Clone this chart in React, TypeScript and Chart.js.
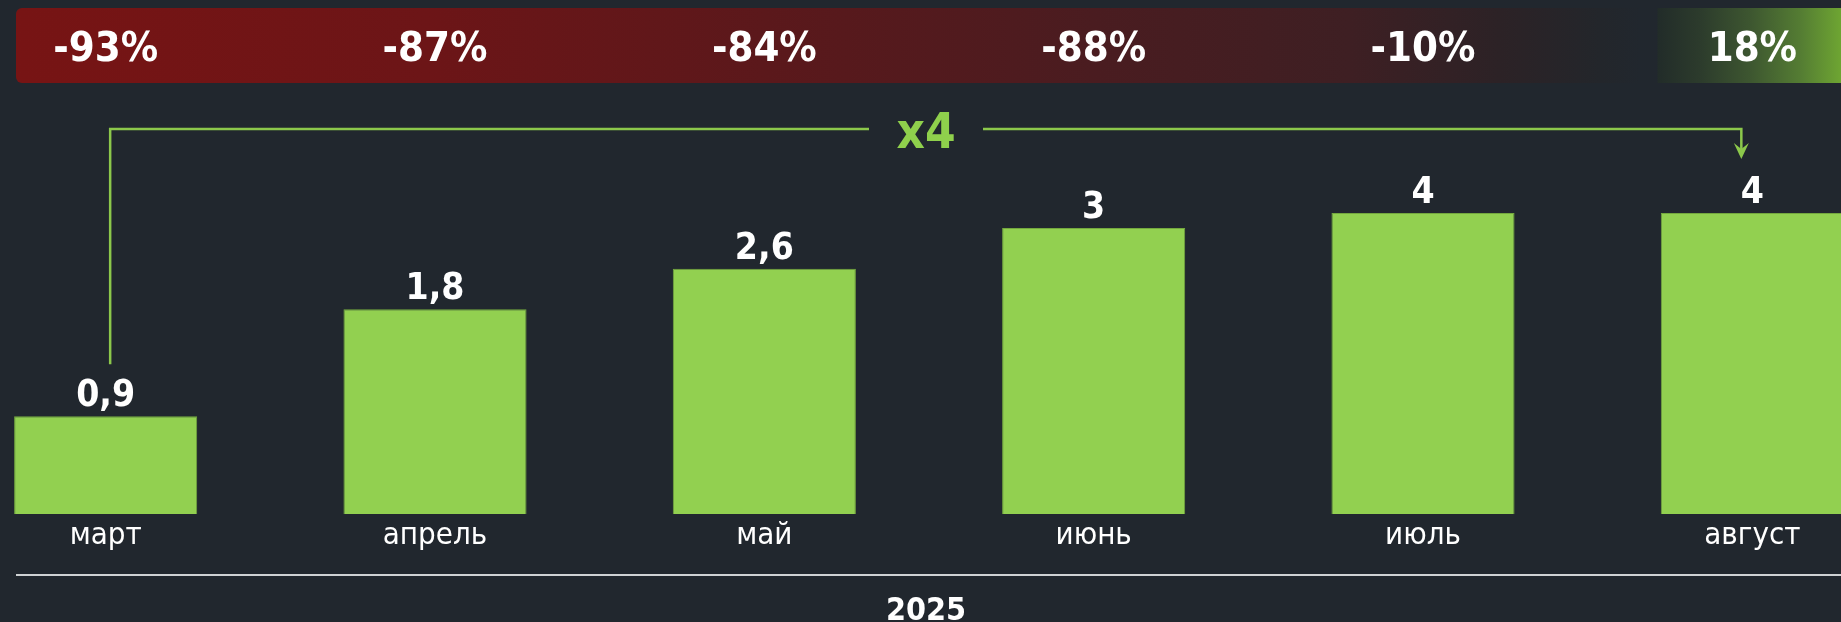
import React, { useEffect, useRef } from "react";
import { Chart, registerables } from "chart.js";

Chart.register(...registerables);

const categories = ["март", "апрель", "май", "июнь", "июль", "август"];
const barValues = [1.3, 2.72, 3.26, 3.8, 4.0, 4.0];
const valueLabels = ["0,9", "1,8", "2,6", "3", "4", "4"];
const changeLabels = ["-93%", "-87%", "-84%", "-88%", "-10%", "18%"];
const yearLabel = "2025";
const growthLabel = "x4";

const BG = "#21272e";
const BAR = "#92d050";
const LINE_GREEN = "#8cc84b";
const FONT = '"DejaVu Sans Condensed", "DejaVu Sans", sans-serif';

const W = 1841;
const H = 622;
const OX = 59; // canvas extends past the visible page on the left
const CW = 1976; // canvas width (wider than the page so outer bars are cut)

const decorPlugin = {
  id: "decor",
  beforeDraw(chart: any) {
    const ctx = chart.ctx;
    ctx.save();
    ctx.fillStyle = BG;
    ctx.fillRect(0, 0, CW, H);
    ctx.translate(OX, 0);

    // banner
    const bl = 16, bt = 8, bh = 75, br = W;
    const g = ctx.createLinearGradient(bl, 0, br, 0);
    const stops: [number, string][] = [
      [16, "#771414"],
      [435, "#6c1517"],
      [765, "#5b181b"],
      [1094, "#4a1c20"],
      [1350, "#3e1f23"],
      [1500, "#2c2226"],
      [1600, "#23262b"],
      [1640, BG],
      [1657, BG],
      [1658, "#222c29"],
      [1700, "#2c3b2c"],
      [1750, "#3d5630"],
      [1800, "#547c33"],
      [1841, "#6ea532"],
    ];
    stops.forEach(([x, c]) => g.addColorStop((x - bl) / (br - bl), c));
    ctx.fillStyle = g;
    ctx.beginPath();
    (ctx as any).roundRect(bl, bt, br - bl, bh, [6, 0, 0, 6]);
    ctx.fill();
    ctx.restore();
  },
  afterDraw(chart: any) {
    const ctx = chart.ctx;
    const meta = chart.getDatasetMeta(0);
    const xs = meta.data.map((b: any) => b.x - OX);
    ctx.save();
    ctx.translate(OX, 0);
    ctx.textAlign = "center";
    ctx.textBaseline = "alphabetic";
    ctx.fillStyle = "#ffffff";

    // change percentages in banner
    ctx.font = `bold 41.5px ${FONT}`;
    changeLabels.forEach((t, i) => ctx.fillText(t, xs[i], 61));

    // value labels
    ctx.font = `bold 37px ${FONT}`;
    meta.data.forEach((b: any, i: number) => {
      ctx.fillText(valueLabels[i], xs[i], b.y - 10);
    });

    // category labels
    ctx.font = `31px ${FONT}`;
    categories.forEach((t, i) => ctx.fillText(t, xs[i], 544));

    // axis line
    ctx.strokeStyle = "#cfd2d4";
    ctx.lineWidth = 2;
    ctx.beginPath();
    ctx.moveTo(16, 575);
    ctx.lineTo(W, 575);
    ctx.stroke();

    // year
    const mid = (xs[0] + xs[xs.length - 1]) / 2;
    ctx.font = `bold 32px ${FONT}`;
    ctx.fillText(yearLabel, mid - 3, 620);

    // connector
    const x0 = xs[0] + 4.5;
    const x5 = xs[xs.length - 1] - 11;
    const ly = 129;
    ctx.strokeStyle = LINE_GREEN;
    ctx.lineWidth = 2.5;
    ctx.beginPath();
    ctx.moveTo(x0, meta.data[0].y - 52);
    ctx.lineTo(x0, ly);
    ctx.lineTo(mid - 60, ly);
    ctx.moveTo(mid + 54, ly);
    ctx.lineTo(x5, ly);
    ctx.lineTo(x5, 150);
    ctx.stroke();
    ctx.fillStyle = LINE_GREEN;
    ctx.beginPath();
    ctx.moveTo(x5, 159);
    ctx.lineTo(x5 - 7.5, 143);
    ctx.lineTo(x5, 149);
    ctx.lineTo(x5 + 7.5, 143);
    ctx.closePath();
    ctx.fill();

    // growth label
    ctx.fillStyle = "#8fd04c";
    ctx.font = `bold 49px ${FONT}`;
    ctx.fillText(growthLabel, mid - 3, 148);
    ctx.restore();
  },
};

export default function App() {
  const ref = useRef<HTMLCanvasElement | null>(null);
  useEffect(() => {
    if (!ref.current) return;
    const chart = new Chart(ref.current, {
      type: "bar",
      data: {
        labels: categories,
        datasets: [
          {
            data: barValues,
            backgroundColor: BAR,
            borderColor: "#74a83e",
            borderWidth: 1,
            barPercentage: 0.556,
            categoryPercentage: 1,
          },
        ],
      },
      options: {
        animation: false,
        responsive: false,
        devicePixelRatio: 1,
        layout: { padding: { left: 0, right: 0, top: 213, bottom: 108 } },
        plugins: { legend: { display: false }, tooltip: { enabled: false } },
        scales: {
          x: { display: false, offset: true, grid: { display: false } },
          y: { display: false, min: 0, max: 4, grid: { display: false } },
        },
      },
      plugins: [decorPlugin],
    });
    return () => chart.destroy();
  }, []);
  return (
    <div
      style={{
        position: "fixed",
        left: 0,
        top: 0,
        width: W,
        height: H,
        overflow: "hidden",
        background: BG,
      }}
    >
      <canvas
        ref={ref}
        width={CW}
        height={H}
        style={{ position: "absolute", left: -OX, top: 0, width: CW, height: H, display: "block" }}
      />
    </div>
  );
}
